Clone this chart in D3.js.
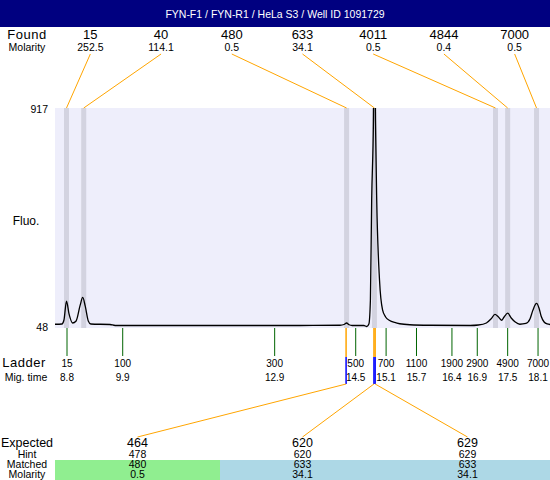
<!DOCTYPE html>
<html>
<head>
<meta charset="utf-8">
<script src="https://cdn.jsdelivr.net/npm/d3@7"></script>
<style>
  body { margin: 0; background: #fff; }
  svg { display: block; font-family: "Liberation Sans", Arial, sans-serif; }
</style>
</head>
<body>
<svg id="chart" width="550" height="480"></svg>
<script>
// electropherogram of one well

var title = "FYN-F1 / FYN-R1 / HeLa S3 / Well ID 1091729";

// peaks found in the sample
var foundSize = [15, 40, 480, 633, 4011, 4844, 7000];
var foundMolarity = [252.5, 114.1, 0.5, 34.1, 0.5, 0.4, 0.5];
var foundTime = [8.79, 9.13, 14.32, 14.87, 17.26, 17.50, 18.07];

// ladder
var ladderSize = [15, 100, 300, 500, 700, 1100, 1900, 2900, 4900, 7000];
var ladderTime = [8.8, 9.9, 12.9, 14.5, 15.1, 15.7, 16.4, 16.9, 17.5, 18.1];

// expected products and what they matched
var expected = [464, 620, 629];
var hint = [478, 620, 629];
var matched = [480, 633, 633];
var matchedMolarity = [0.5, 34.1, 34.1];

// fluorescence axis
var fluoTicks = [48, 917];

// trace (migration time, fluorescence)
var traceTime = [8.56, 8.70, 8.74, 8.79, 8.84, 8.91, 8.98, 9.06, 9.11, 9.16,
  9.22, 9.27, 9.65, 9.75, 13.40, 14.19, 14.27, 14.32, 14.37, 14.43,
  14.66, 14.72, 14.76, 14.79, 14.815, 14.85, 14.87, 14.89, 14.915, 14.97,
  15.03, 15.09, 15.17, 15.27, 15.37, 15.57, 15.97, 16.76, 16.92, 17.08,
  17.17, 17.25, 17.31, 17.38, 17.43, 17.50, 17.57, 17.65, 17.74, 17.86,
  17.94, 18.00, 18.07, 18.12, 18.16, 18.22, 18.28, 18.34];
var traceFluo = [59, 60, 76, 151, 100, 64, 72, 135, 166, 131,
  72, 60, 58, 54, 54, 55, 58, 64, 57, 54,
  54, 50, 60, 155, 552, 869, 1300, 869, 552, 235,
  116, 88, 74, 66, 61, 57, 55, 54, 56, 64,
  80, 98, 90, 75, 88, 103, 84, 68, 59, 62,
  80, 116, 142, 123, 92, 68, 60, 58];

var svg = d3.select("#chart"),
  width = 550,
  plotLeft = 55,
  plotTop = 108,
  plotBottom = 328;

var x = d3.scaleLinear().domain([8.563, 18.336]).range([plotLeft, width]);
var y = d3.scaleLinear().domain(fluoTicks).range([327, 109]);

// column scales for the top and bottom tables
var foundCol = d3.scaleBand().domain(d3.range(foundSize.length)).range([plotLeft, width]);
var expCol = d3.scaleBand().domain(d3.range(expected.length)).range([plotLeft, width]);

// title bar
svg.append("rect").attr("width", width).attr("height", 27).attr("fill", "#000080");
svg.append("text").attr("x", width / 2).attr("y", 18)
  .attr("text-anchor", "middle").attr("fill", "#fff").attr("font-size", 10.5)
  .text(title);

// left labels
function label(txt, yy, size, cx, sp) {
  svg.append("text").attr("x", cx || 27).attr("y", yy)
    .attr("text-anchor", "middle").attr("font-size", size)
    .attr("letter-spacing", sp || 0)
    .text(txt);
}
label("Found", 39, 13, 27, 0.5);
label("Molarity", 51, 10.5);
label("Fluo.", 225, 12, 26);
label("Ladder", 367, 13, 24, 0.5);
label("Mig. time", 381, 10.5, 26);
label("Expected", 447, 12.5, 27);
label("Hint", 457.5, 10.5);
label("Matched", 468, 10.5);
label("Molarity", 478, 10.5);

// plot background and found bands
svg.append("rect").attr("x", plotLeft).attr("y", plotTop)
  .attr("width", width - plotLeft).attr("height", plotBottom - plotTop)
  .attr("fill", "#eeeefb");

svg.selectAll(".band").data(foundTime).enter().append("rect")
  .attr("class", "band")
  .attr("x", function(d) { return x(d) - 2.5; })
  .attr("y", plotTop).attr("width", 5).attr("height", plotBottom - plotTop)
  .attr("fill", "#d3d3e0");

// y tick labels
svg.selectAll(".ytick").data(fluoTicks).enter().append("text")
  .attr("x", 48).attr("y", function(d) { return y(d) + 4; })
  .attr("text-anchor", "end").attr("font-size", 10.5)
  .text(function(d) { return d; });

// found table
var found = svg.selectAll(".found").data(foundSize).enter().append("g");
found.append("text")
  .attr("x", function(d, i) { return foundCol(i) + foundCol.bandwidth() / 2; })
  .attr("y", 39).attr("text-anchor", "middle").attr("font-size", 13)
  .text(function(d) { return d; });
found.append("text")
  .attr("x", function(d, i) { return foundCol(i) + foundCol.bandwidth() / 2; })
  .attr("y", 51).attr("text-anchor", "middle").attr("font-size", 10.5)
  .text(function(d, i) { return foundMolarity[i]; });
found.append("line")
  .attr("x1", function(d, i) { return foundCol(i) + foundCol.bandwidth() / 2; })
  .attr("y1", 54)
  .attr("x2", function(d, i) { return x(foundTime[i]); })
  .attr("y2", plotTop)
  .attr("stroke", "orange").attr("stroke-width", 1);

// trace, clipped to the plot
svg.append("clipPath").attr("id", "clip").append("rect")
  .attr("x", plotLeft).attr("y", plotTop)
  .attr("width", width - plotLeft).attr("height", plotBottom - plotTop);

var line = d3.line()
  .x(function(d) { return x(traceTime[d]); })
  .y(function(d) { return y(traceFluo[d]); })
  .curve(d3.curveMonotoneX);

svg.append("path").datum(d3.range(traceTime.length))
  .attr("clip-path", "url(#clip)")
  .attr("d", line)
  .attr("fill", "none").attr("stroke", "#000").attr("stroke-width", 1.3);

// ladder ticks and labels
var ladder = svg.selectAll(".ladder").data(ladderSize).enter().append("g");
ladder.append("line")
  .attr("x1", function(d, i) { return x(ladderTime[i]); })
  .attr("x2", function(d, i) { return x(ladderTime[i]); })
  .attr("y1", plotBottom).attr("y2", 356)
  .attr("stroke", "#006400").attr("stroke-width", 1);
ladder.append("text")
  .attr("x", function(d, i) { return x(ladderTime[i]); })
  .attr("y", 367).attr("text-anchor", "middle").attr("font-size", 10)
  .text(function(d) { return d; });
ladder.append("text")
  .attr("x", function(d, i) { return x(ladderTime[i]); })
  .attr("y", 381).attr("text-anchor", "middle").attr("font-size", 10)
  .text(function(d, i) { return d3.format(".1f")(ladderTime[i]); });

// expected table, cells coloured green when the match is unique
var cellColor = function(i) {
  var n = matched.filter(function(m) { return m == matched[i]; }).length;
  return n > 1 ? "#add8e6" : "#90ee90";
};
svg.selectAll(".cell").data(expected).enter().append("rect")
  .attr("x", function(d, i) { return expCol(i); })
  .attr("y", 460).attr("width", expCol.bandwidth() + 0.5).attr("height", 20)
  .attr("fill", function(d, i) { return cellColor(i); });

// links from the matched peak down to the expected column
var seen = {};
expected.forEach(function(d, i) {
  var t = foundTime[foundSize.indexOf(matched[i])];
  var k = seen[matched[i]] || 0;
  seen[matched[i]] = k + 1;
  var px = x(t) - 0.5 + k * 1.2;
  var cx = expCol(i) + expCol.bandwidth() / 2;
  svg.append("line").attr("x1", px).attr("x2", px).attr("y1", plotBottom).attr("y2", 357)
    .attr("stroke", "orange").attr("stroke-width", 1.5);
  svg.append("line").attr("x1", px).attr("x2", px).attr("y1", 357).attr("y2", 384)
    .attr("stroke", "#0000ff").attr("stroke-width", 1.5);
  svg.append("line").attr("x1", px).attr("y1", 384).attr("x2", cx).attr("y2", 437)
    .attr("stroke", "orange").attr("stroke-width", 1);
});

var rows = [[expected, 447, 12.5], [hint, 457.5, 10.5], [matched, 468, 10.5], [matchedMolarity, 478, 10.5]];
rows.forEach(function(r) {
  svg.selectAll(null).data(r[0]).enter().append("text")
    .attr("x", function(d, i) { return expCol(i) + expCol.bandwidth() / 2; })
    .attr("y", r[1]).attr("text-anchor", "middle").attr("font-size", r[2])
    .text(function(d) { return d; });
});
</script>
</body>
</html>
